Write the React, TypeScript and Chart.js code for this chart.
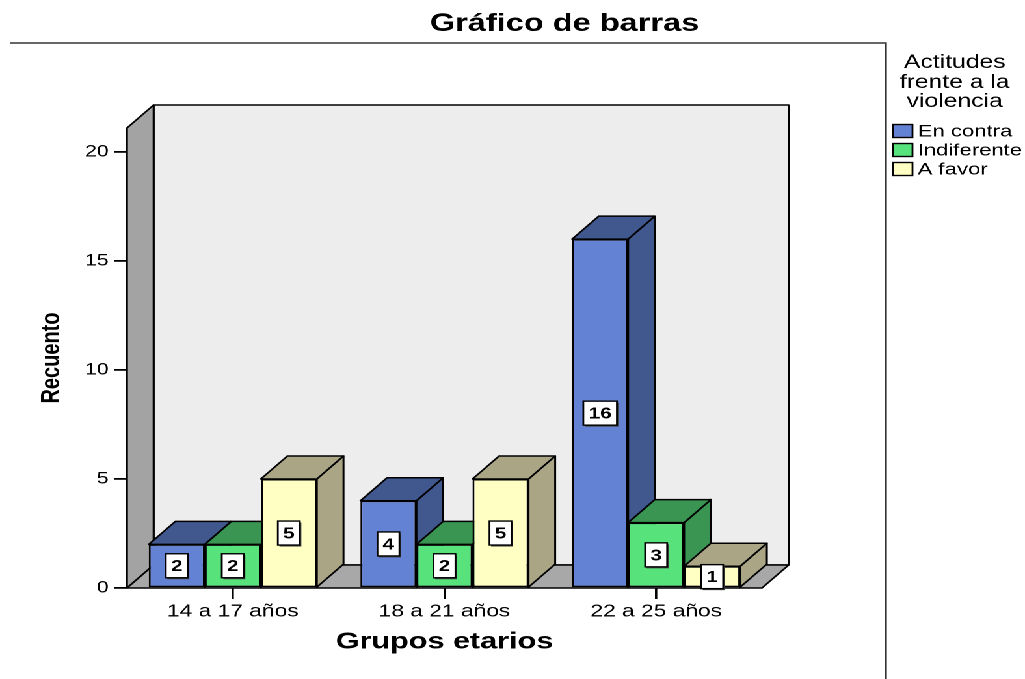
import React, { useEffect, useRef } from 'react';
import { Chart, registerables } from 'chart.js';

Chart.register(...registerables);

// ---- data ----
const categories = ['14 a 17 años', '18 a 21 años', '22 a 25 años'];
const seriesNames = ['En contra', 'Indiferente', 'A favor'];
const enContra = [2, 4, 16];
const indiferente = [2, 2, 3];
const aFavor = [5, 5, 1];
const yTicks = [0, 5, 10, 15, 20];
const legendTitle = ['Actitudes', 'frente a la', 'violencia'];
const chartTitle = 'Gráfico de barras';
const xTitle = 'Grupos etarios';
const yTitle = 'Recuento';

// ---- styles ----
const frontColors = ['#6482d3', '#58e27c', '#ffffc4'];
const darkColors = ['#41588f', '#3a9452', '#aaa585'];
const W = 788;
const H = 679;
const S = 1025 / W;
const DX = 20.5;
const DY = 23;
const FONT = '"Liberation Sans", Arial, sans-serif';

function poly(ctx: CanvasRenderingContext2D, pts: number[][], fill: string, lw = 1.5) {
  ctx.beginPath();
  ctx.moveTo(pts[0][0], pts[0][1]);
  for (let i = 1; i < pts.length; i++) ctx.lineTo(pts[i][0], pts[i][1]);
  ctx.closePath();
  ctx.fillStyle = fill;
  ctx.fill();
  ctx.lineWidth = lw;
  ctx.strokeStyle = '#000';
  ctx.lineJoin = 'round';
  ctx.stroke();
}

const threeD = {
  id: 'threeD',
  afterLayout(chart: any) {
    const tb = chart.titleBlock;
    if (tb) {
      tb.left = 434 - 160;
      tb.right = 434 + 160;
    }
  },
  beforeDatasetsDraw(chart: any) {
    const { ctx, chartArea: a } = chart;
    ctx.save();
    // back wall
    poly(ctx, [[a.left + DX, a.top - DY], [a.right + DX, a.top - DY], [a.right + DX, a.bottom - DY], [a.left + DX, a.bottom - DY]], '#ededed');
    // side wall
    poly(ctx, [[a.left, a.bottom], [a.left, a.top], [a.left + DX, a.top - DY], [a.left + DX, a.bottom - DY]], '#a3a3a3');
    // floor
    poly(ctx, [[a.left, a.bottom], [a.right, a.bottom], [a.right + DX, a.bottom - DY], [a.left + DX, a.bottom - DY]], '#a8a8a8');

    const items: any[] = [];
    chart.data.datasets.forEach((_ds: any, di: number) => {
      const meta = chart.getDatasetMeta(di);
      meta.data.forEach((el: any) => {
        const p = el.getProps(['x', 'y', 'base', 'width'], true);
        items.push({ ...p, di });
      });
    });
    items.sort((p, q) => p.x - q.x);
    for (const it of items) {
      const L = it.x - it.width / 2;
      const R = it.x + it.width / 2;
      const T = Math.min(it.y, it.base);
      const B = Math.max(it.y, it.base);
      const c = darkColors[it.di];
      poly(ctx, [[R, T], [R + DX, T - DY], [R + DX, B - DY], [R, B]], c);
      poly(ctx, [[L, T], [R, T], [R + DX, T - DY], [L + DX, T - DY]], c);
    }
    ctx.restore();
  },
  afterDatasetsDraw(chart: any) {
    const { ctx } = chart;
    ctx.save();
    ctx.font = `bold 16px ${FONT}`;
    ctx.textAlign = 'center';
    ctx.textBaseline = 'middle';
    chart.data.datasets.forEach((ds: any, di: number) => {
      const meta = chart.getDatasetMeta(di);
      meta.data.forEach((el: any, i: number) => {
        const p = el.getProps(['x', 'y', 'base'], true);
        const txt = String(ds.data[i]);
        const tw = ctx.measureText(txt).width;
        const bw = tw + 8;
        const bh = 24;
        const cx = p.x;
        const cy = (p.y + p.base) / 2;
        ctx.fillStyle = '#444';
        ctx.fillRect(cx - bw / 2 + 1.2, cy - bh / 2 + 1.5, bw, bh);
        ctx.fillStyle = '#fff';
        ctx.fillRect(cx - bw / 2, cy - bh / 2, bw, bh);
        ctx.lineWidth = 1.4;
        ctx.strokeStyle = '#000';
        ctx.strokeRect(cx - bw / 2, cy - bh / 2, bw, bh);
        ctx.fillStyle = '#000';
        ctx.fillText(txt, cx, cy + 1);
      });
    });
    ctx.restore();
  },
  afterDraw(chart: any) {
    const { ctx } = chart;
    ctx.save();
    // frame
    ctx.strokeStyle = '#333';
    ctx.lineWidth = 1.6;
    ctx.beginPath();
    ctx.moveTo(7.7, 43);
    ctx.lineTo(681, 43);
    ctx.lineTo(681, H);
    ctx.stroke();
    // legend title
    ctx.fillStyle = '#000';
    ctx.font = `19px ${FONT}`;
    ctx.textAlign = 'center';
    ctx.textBaseline = 'middle';
    const tys = [63, 83, 102];
    legendTitle.forEach((t, i) => ctx.fillText(t, 734, tys[i]));
    // legend items
    const iys = [131, 150, 169];
    ctx.font = `17px ${FONT}`;
    ctx.textAlign = 'left';
    seriesNames.forEach((n, i) => {
      ctx.fillStyle = frontColors[i];
      ctx.fillRect(686.5, iys[i] - 6.5, 15, 13);
      ctx.lineWidth = 1.4;
      ctx.strokeStyle = '#000';
      ctx.strokeRect(686.5, iys[i] - 6.5, 15, 13);
      ctx.fillStyle = '#000';
      ctx.fillText(n, 705.5, iys[i] + 1);
    });
    ctx.restore();
  },
};

export default function App() {
  const ref = useRef<HTMLCanvasElement>(null);
  useEffect(() => {
    Chart.defaults.font.family = FONT;
    const seriesData = [enContra, indiferente, aFavor];
    const chart = new Chart(ref.current as HTMLCanvasElement, {
      type: 'bar',
      data: {
        labels: categories,
        datasets: seriesNames.map((name, i) => ({
          label: name,
          data: seriesData[i],
          backgroundColor: frontColors[i],
          borderColor: '#000',
          borderWidth: 1.5,
          borderSkipped: false,
          categoryPercentage: 0.794,
          barPercentage: 1,
        })),
      },
      options: {
        animation: false,
        responsive: true,
        maintainAspectRatio: false,
        devicePixelRatio: 2,
        layout: { padding: { left: 0, right: W - 585.8, top: 0, bottom: 0 } },
        plugins: {
          legend: { display: false },
          tooltip: { enabled: false },
          title: {
            display: true,
            text: chartTitle,
            color: '#000',
            font: { size: 25, weight: 'bold', family: FONT },
            padding: { top: 9, bottom: 89 },
          },
        },
        scales: {
          x: {
            type: 'category',
            offset: true,
            afterFit: (s: any) => { s.height = H - 588; },
            grid: { offset: false, drawOnChartArea: false, drawTicks: true, tickLength: 11, color: '#000', lineWidth: 1.8 },
            border: { display: false },
            ticks: { color: '#000', font: { size: 17.5 }, padding: 2, maxRotation: 0, autoSkip: false },
            title: {
              display: true,
              text: xTitle,
              color: '#000',
              font: { size: 23.5, weight: 'bold' },
              padding: { top: 0, bottom: 22.9 },
            },
          },
          y: {
            min: 0,
            max: 21.1,
            afterFit: (s: any) => { s.width = 97.6; },
            afterBuildTicks: (axis: any) => { axis.ticks = yTicks.map((v) => ({ value: v })); },
            grid: { drawOnChartArea: false, drawTicks: true, tickLength: 10, color: '#000', lineWidth: 1.8 },
            border: { display: false },
            ticks: { color: '#000', font: { size: 16.5 }, padding: 4 },
            title: {
              display: true,
              text: yTitle,
              color: '#000',
              font: { size: 20, weight: 'bold' },
              padding: { top: 28, bottom: 0 },
            },
          },
        },
      },
      plugins: [threeD],
    } as any);
    return () => chart.destroy();
  }, []);
  return (
    <div
      style={{
        position: 'absolute',
        left: 0,
        top: 0,
        width: W,
        height: H,
        transform: `scaleX(${S})`,
        transformOrigin: '0 0',
        background: '#fff',
      }}
    >
      <canvas ref={ref} />
    </div>
  );
}
